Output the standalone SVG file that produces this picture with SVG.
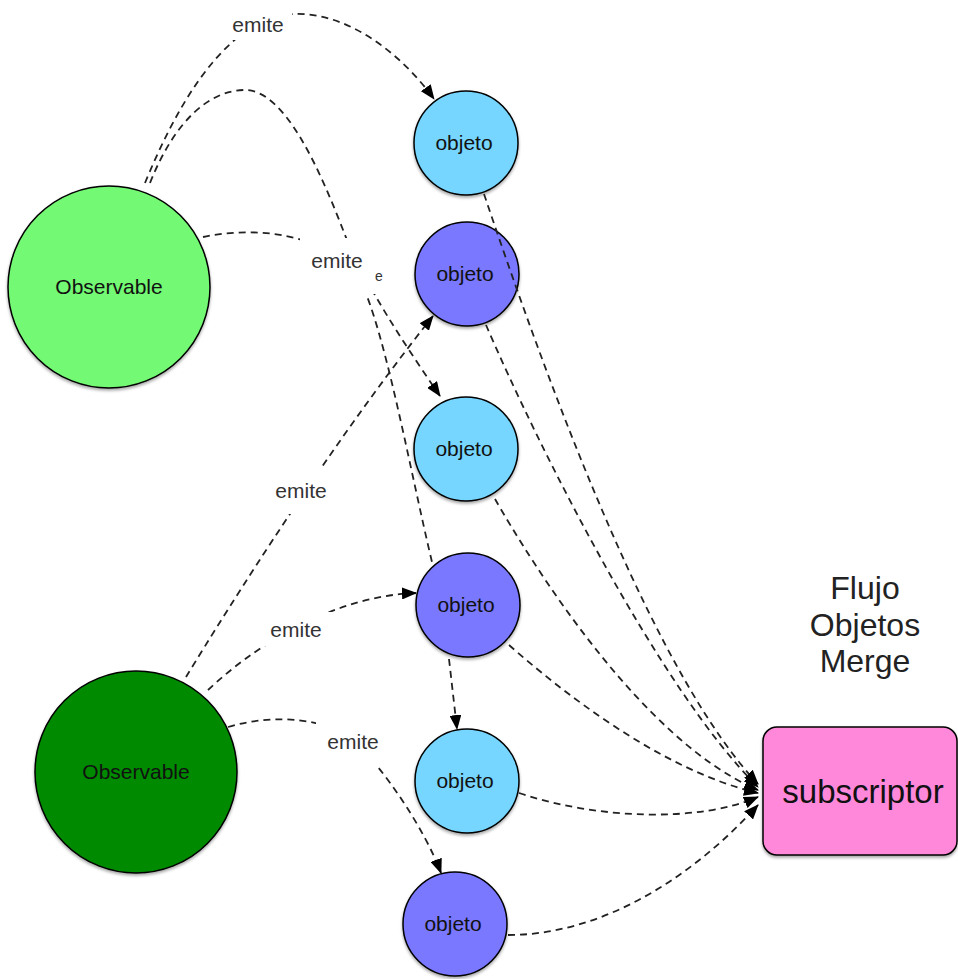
<svg xmlns="http://www.w3.org/2000/svg" width="958" height="979" viewBox="0 0 958 979">
<defs>
<filter id="sh" x="-20%" y="-20%" width="140%" height="140%">
<feDropShadow dx="0" dy="2" stdDeviation="1.5" flood-color="#000" flood-opacity="0.35"/>
</filter>
<marker id="arr" markerWidth="15" markerHeight="12" refX="14" refY="6" orient="auto" markerUnits="userSpaceOnUse">
<path d="M0,0 L15,6 L0,12 z" fill="#000" stroke="none"/>
</marker>
</defs>
<style>
.node{stroke:#000;stroke-width:1.5;filter:url(#sh)}
.lt{font-family:"Liberation Sans",Arial,sans-serif;font-size:21px;fill:#111;text-anchor:middle}
.conn path{fill:none;stroke:#222;stroke-width:1.8;stroke-dasharray:7 5;marker-end:url(#arr)}
.conn path.na{marker-end:none}
.lbl rect{fill:#fff;stroke:none}
.lbl text{font-family:"Liberation Sans",Arial,sans-serif;font-size:21px;fill:#333;text-anchor:middle}
</style>
<rect width="958" height="979" fill="#fff"/>

<g id="observable1"><circle class="node" cx="109" cy="287" r="101" fill="#73F973"/><text class="lt" x="109" y="294">Observable</text></g>
<g id="observable2"><circle class="node" cx="136" cy="772" r="101" fill="#008A00"/><text class="lt" x="136" y="779">Observable</text></g>
<g id="objeto1"><circle class="node" cx="466" cy="143" r="52" fill="#76D6FF"/><text class="lt" x="464" y="150">objeto</text></g>
<g id="objeto2"><circle class="node" cx="467" cy="274" r="52" fill="#7A78FF"/><text class="lt" x="465" y="281">objeto</text></g>
<g id="objeto3"><circle class="node" cx="466" cy="449" r="52" fill="#76D6FF"/><text class="lt" x="464" y="456">objeto</text></g>
<g id="objeto4"><circle class="node" cx="468" cy="605" r="52" fill="#7A78FF"/><text class="lt" x="466" y="612">objeto</text></g>
<g id="objeto5"><circle class="node" cx="467" cy="781" r="52" fill="#76D6FF"/><text class="lt" x="465" y="788">objeto</text></g>
<g id="objeto6"><circle class="node" cx="455" cy="924" r="52" fill="#7A78FF"/><text class="lt" x="453" y="931">objeto</text></g>
<g id="subscriptor"><rect class="node" x="763" y="727" width="194" height="128" rx="14" fill="#FF88DA"/><text x="863" y="803" font-family="Liberation Sans,Arial,sans-serif" font-size="33" fill="#111" text-anchor="middle">subscriptor</text></g>
<g id="titulo" font-family="Liberation Sans,Arial,sans-serif" font-size="32" fill="#222" text-anchor="middle">
<text x="865" y="599">Flujo</text><text x="865" y="636">Objetos</text><text x="865" y="672">Merge</text>
</g>

<g id="connectors" class="conn">
<path d="M145,183 C175,110 215,40 270,18 C330,0 395,45 434,99"/>
<path d="M150,183 C175,120 210,90 245,90 C285,90 320,170 345,235 C365,285 405,345 440,396"/>
<path class="na" d="M203,237 C260,225 330,235 360,280 C385,330 410,470 432,562"/>
<path d="M186,677 C230,605 330,445 433,316"/>
<path d="M208,690 C250,650 330,596 416,593"/>
<path d="M228,727 C280,712 330,720 355,742 C385,770 425,830 441,873"/>
<path d="M449,659 L457,729"/>
<path d="M484,194 C560,420 660,680 758,784"/>
<path d="M486,325 C540,450 660,690 758,787"/>
<path d="M495,499 C530,560 640,740 758,790"/>
<path d="M509,645 C560,690 660,770 758,793"/>
<path d="M519,793 C600,820 700,822 758,797"/>
<path d="M508,935 C600,935 690,880 758,805"/>
</g>

<g id="labels" class="lbl">
<rect x="226" y="10" width="66" height="30"/><text x="258" y="32">emite</text>
<rect x="300" y="238" width="68" height="56"/><rect x="366" y="262" width="26" height="32"/>
<text x="337" y="268">emite</text><text x="379" y="281" style="font-size:14px">e</text>
<rect x="272" y="466" width="58" height="48"/><text x="301" y="498">emite</text>
<rect x="264" y="612" width="70" height="34"/><text x="296" y="637">emite</text>
<rect x="316" y="721" width="74" height="45"/><text x="353" y="749">emite</text>
</g>
</svg>
